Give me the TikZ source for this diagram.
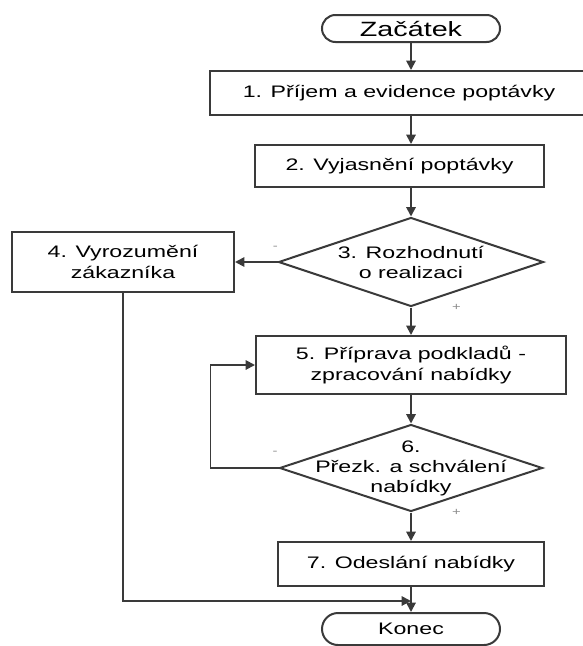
\documentclass[tikz,border=0pt]{standalone}
\usepackage{fontspec}
\setmainfont[FakeStretch=1.39]{Liberation Sans}
\usetikzlibrary{shapes.geometric,shapes.misc,arrows.meta}
\definecolor{linegray}{HTML}{3A3A3A}
\definecolor{signgray}{HTML}{8C8C8C}
\tikzset{
  process/.style={rectangle, draw=linegray, line width=1.5pt, align=center, inner sep=0pt,
                  font=\fontsize{12.5}{15.5}\selectfont},
  decision/.style={diamond, aspect=3, draw=linegray, line width=1.5pt, align=center, inner sep=-12pt,
                   font=\fontsize{12.5}{15}\selectfont},
  terminal/.style={rounded rectangle, draw=linegray, line width=1.5pt, minimum width=133.5pt, inner sep=0pt},
  flow/.style={draw=linegray, line width=1.4pt, -{Triangle[length=7pt,width=7pt]}},
  sign/.style={font=\fontsize{8}{9}\selectfont, text=signgray}
}

\begin{document}
\begin{tikzpicture}[x=0.75pt, y=-0.75pt]
    \useasboundingbox (0,0) rectangle (582,646);

    \node[terminal, minimum height=20.25pt, font=\fontsize{15.5}{18}\selectfont] (start) at (411,28.5) {Začátek};
    \node[process, minimum width=283.5pt, minimum height=33pt] (b1) at (399,93) {1. Příjem a evidence poptávky};
    \node[process, minimum width=216.75pt, minimum height=31.5pt] (b2) at (399.5,166) {2. Vyjasnění poptávky};
    \node[decision, minimum width=198.75pt, minimum height=66.75pt] (d3) at (411,262) {3. Rozhodnutí\\o realizaci};
    \node[process, minimum width=166.5pt, minimum height=45pt] (b4) at (123,262) {4. Vyrozumění\\zákazníka};
    \node[process, minimum width=232.5pt, minimum height=43.5pt] (b5) at (411,365) {5. Příprava podkladů -\\zpracování nabídky};
    \node[decision, minimum width=197.25pt, minimum height=65.25pt] (d6) at (411,468) {6.\\Přezk. a schválení\\nabídky};
    \node[process, minimum width=199.5pt, minimum height=33pt] (b7) at (411,564) {7. Odeslání nabídky};
    \node[terminal, minimum height=24pt, font=\fontsize{12.5}{15}\selectfont] (stop) at (411,629) {Konec};
    \coordinate (join) at (411,601);

    \draw[flow] (start) -- (start |- b1.north);
    \draw[flow] (b1.south -| start) -- (b2.north -| start);
    \draw[flow] (b2.south -| d3) -- (d3.north);
    \draw[flow] (d3.west) -- node[sign, pos=0.05, yshift=10.5pt] {-} (b4.east);
    \draw[flow] (d3.south) -- node[sign, pos=0, xshift=34pt] {+} (b5.north);
    \draw[flow] (b5) -- (d6);
    \draw[flow] (d6.west) -- node[sign, pos=0.05, yshift=11pt] {-} ++(-68,0) |- (b5.west);
    \draw[flow] (d6.south) -- node[sign, pos=0, xshift=34pt] {+} (b7.north);
    \draw[flow] (b7) -- (stop);
    \draw[flow] (b4.south) |- (join);
\end{tikzpicture}
\end{document}
